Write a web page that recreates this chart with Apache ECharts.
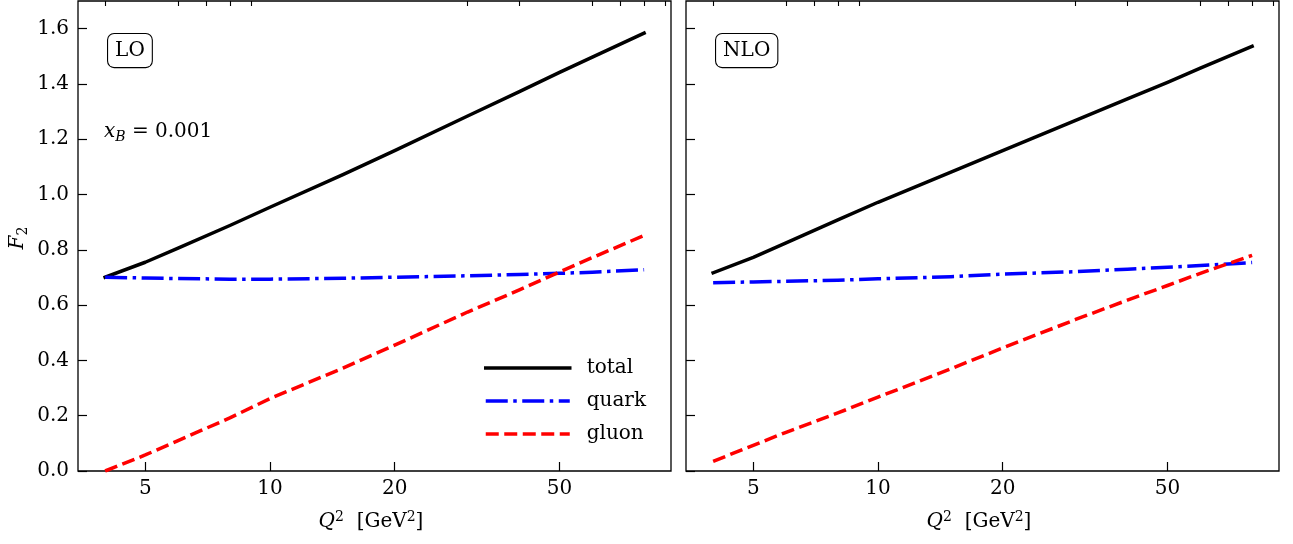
<!DOCTYPE html>
<html><head><meta charset="utf-8">
<script src="https://cdn.jsdelivr.net/npm/echarts@6/dist/echarts.min.js"></script>
<style>html,body{margin:0;padding:0;background:#fff}#c{width:1293px;height:544px}</style>
</head><body><div id="c"></div>
<script>
// ---- data ----
const q2 = [4, 5, 6, 8, 10, 15, 20, 30, 40, 50, 60, 80];
const loTotal  = [0.701, 0.755, 0.806, 0.888, 0.954, 1.072, 1.159, 1.284, 1.372, 1.442, 1.497, 1.584];
const loQuark  = [0.701, 0.698, 0.696, 0.694, 0.694, 0.697, 0.701, 0.706, 0.711, 0.715, 0.719, 0.728];
const loGluon  = [0.000, 0.058, 0.110, 0.192, 0.262, 0.372, 0.455, 0.575, 0.655, 0.720, 0.772, 0.852];
const nloTotal = [0.717, 0.773, 0.825, 0.908, 0.972, 1.081, 1.159, 1.268, 1.346, 1.406, 1.457, 1.536];
const nloQuark = [0.681, 0.684, 0.686, 0.690, 0.695, 0.703, 0.712, 0.721, 0.730, 0.737, 0.743, 0.754];
const nloGluon = [0.035, 0.093, 0.140, 0.210, 0.267, 0.370, 0.445, 0.548, 0.618, 0.671, 0.715, 0.780];
const xMajorTicks = [5, 10, 20, 50];
const xMinorTicks = [4, 6, 7, 8, 9, 30, 40, 60, 70, 80, 90];
const yTicks = [0, 0.2, 0.4, 0.6, 0.8, 1.0, 1.2, 1.4, 1.6];
const seriesNames = ['total', 'quark', 'gluon'];
const panelLabels = ['LO', 'NLO'];

const FONT = 'DejaVu Serif';
const X_MIN = 3.44, X_MAX = 92.9, Y_MIN = 0, Y_MAX = 1.7;
const LW = 3.5;

const pair = arr => q2.map((x, i) => [x, arr[i]]);

function xAxisMajor(gi) {
  return {
    type: 'log', logBase: 10, gridIndex: gi, min: X_MIN, max: X_MAX,
    axisLine: { show: false },
    splitLine: { show: false },
    axisTick: { inside: true, length: 9, customValues: xMajorTicks, lineStyle: { color: '#000', width: 1.2 } },
    axisLabel: { customValues: xMajorTicks, color: '#000', fontFamily: FONT, fontSize: 20, margin: 8,
      formatter: v => String(Math.round(v)) }
  };
}
function xAxisMinor(gi) {
  return {
    type: 'log', logBase: 10, gridIndex: gi, min: X_MIN, max: X_MAX,
    axisLine: { show: false },
    splitLine: { show: false },
    axisTick: { inside: true, length: 5, customValues: xMinorTicks, lineStyle: { color: '#000', width: 1.1 } },
    axisLabel: { show: false }
  };
}
function yAxis(gi, showLabels) {
  return {
    type: 'value', gridIndex: gi, min: Y_MIN, max: Y_MAX,
    axisLine: { show: false },
    splitLine: { show: false },
    axisTick: { inside: true, length: 9, customValues: yTicks, lineStyle: { color: '#000', width: 1.2 } },
    axisLabel: { show: showLabels, customValues: yTicks, color: '#000', fontFamily: FONT, fontSize: 20, margin: 9,
      formatter: v => v.toFixed(1) }
  };
}

const styles = {
  total: { color: '#000000', type: 'solid', cap: 'square' },
  quark: { color: '#0000ff', type: [22, 5.5, 3.5, 5.5], cap: 'butt' },
  gluon: { color: '#ff0000', type: [13, 5.5], cap: 'butt' }
};
function mkSeries(name, data, xi, yi) {
  const s = styles[name];
  return {
    name, type: 'line', data: pair(data), xAxisIndex: xi, yAxisIndex: yi,
    symbol: 'none', silent: true, clip: true,
    itemStyle: { color: s.color },
    lineStyle: { color: s.color, width: LW, type: s.type, cap: s.cap, join: 'round' }
  };
}

const boxStyle = (txt, x, y) => ({
  type: 'text', left: x, top: y,
  style: {
    text: txt, fill: '#000', font: '20px "' + FONT + '"',
    backgroundColor: '#fff', borderColor: '#000', borderWidth: 1.1, borderRadius: 6,
    padding: [7, 7, 6, 7]
  }
});

const richBase = {
  it: { fontFamily: FONT, fontSize: 20, fontStyle: 'italic', lineHeight: 24, color: '#000' },
  rm: { fontFamily: FONT, fontSize: 20, lineHeight: 24, color: '#000' },
  sup: { fontFamily: FONT, fontSize: 14, lineHeight: 14, verticalAlign: 'top', color: '#000' },
  sub: { fontFamily: FONT, fontSize: 14, fontStyle: 'italic', lineHeight: 14, verticalAlign: 'bottom', color: '#000' },
  subr: { fontFamily: FONT, fontSize: 14, lineHeight: 14, verticalAlign: 'bottom', color: '#000' }
};
const xTitle = '{it|Q}{sup|2}{rm|  [GeV}{sup|2}{rm|]}';

const option = {
  animation: false,
  backgroundColor: '#fff',
  grid: [
    { left: 78, top: 1, width: 593, height: 470, show: true, borderColor: '#000', borderWidth: 1.3, backgroundColor: 'transparent' },
    { left: 686, top: 1, width: 593, height: 470, show: true, borderColor: '#000', borderWidth: 1.3, backgroundColor: 'transparent' }
  ],
  xAxis: [xAxisMajor(0), xAxisMinor(0), xAxisMajor(1), xAxisMinor(1)],
  yAxis: [yAxis(0, true), yAxis(1, false)],
  legend: {
    data: seriesNames, orient: 'vertical', left: 484, top: 358,
    itemWidth: 84, itemHeight: 14, itemGap: 13, padding: 0, selectedMode: false,
    itemStyle: { color: 'rgba(0,0,0,0)', borderWidth: 0, opacity: 0 },
    lineStyle: { width: LW },
    textStyle: { fontFamily: FONT, fontSize: 20, color: '#000', lineHeight: 20, padding: [0, 0, 0, 12] }
  },
  series: [
    mkSeries('total', loTotal, 0, 0),
    mkSeries('quark', loQuark, 0, 0),
    mkSeries('gluon', loGluon, 0, 0),
    mkSeries('total', nloTotal, 2, 1),
    mkSeries('quark', nloQuark, 2, 1),
    mkSeries('gluon', nloGluon, 2, 1)
  ],
  graphic: [
    boxStyle(panelLabels[0], 107, 33),
    boxStyle(panelLabels[1], 715, 33),
    { type: 'text', left: 104, top: 122,
      style: { text: '{it|x}{sub|B}{rm| = 0.001}', rich: richBase } },
    { type: 'text', x: 371, y: 522,
      style: { text: xTitle, rich: richBase, align: 'center', verticalAlign: 'middle' } },
    { type: 'text', x: 979, y: 522,
      style: { text: xTitle, rich: richBase, align: 'center', verticalAlign: 'middle' } },
    { type: 'text', x: 18, y: 238, rotation: Math.PI / 2,
      style: { text: '{it|F}{subr|2}', rich: richBase, align: 'center', verticalAlign: 'middle' } }
  ]
};

const chart = echarts.init(document.getElementById('c'), null, { renderer: 'canvas' });
chart.setOption(option);
</script>
</body></html>
